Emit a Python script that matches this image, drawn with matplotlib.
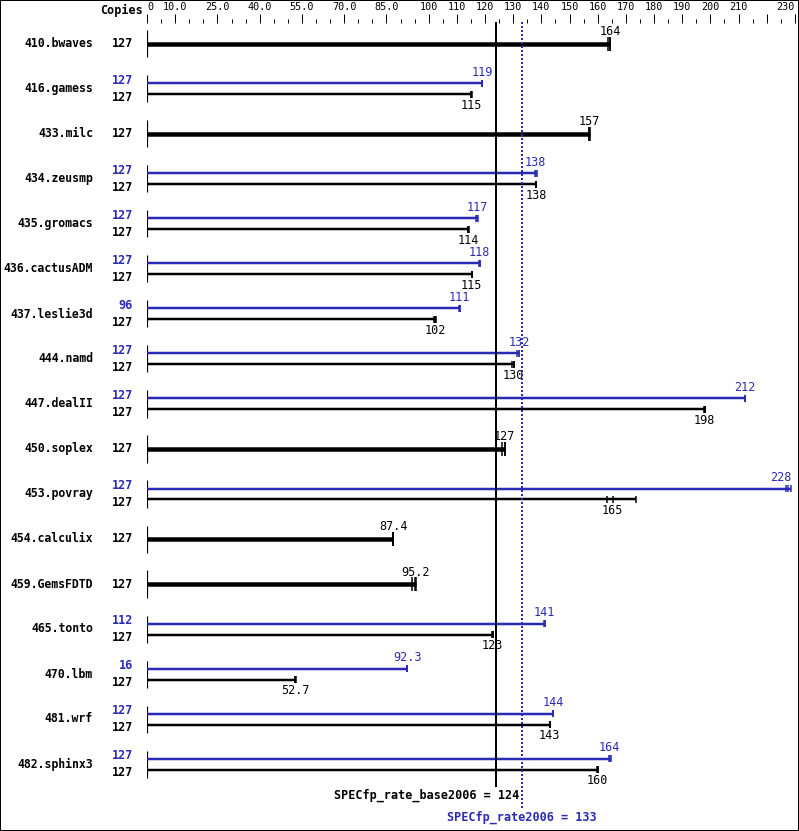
import matplotlib
matplotlib.use("Agg")
import matplotlib.pyplot as plt
from matplotlib.patches import Rectangle
from matplotlib.transforms import blended_transform_factory

BENCHMARKS = [
    "410.bwaves", "416.gamess", "433.milc", "434.zeusmp", "435.gromacs",
    "436.cactusADM", "437.leslie3d", "444.namd", "447.dealII", "450.soplex",
    "453.povray", "454.calculix", "459.GemsFDTD", "465.tonto", "470.lbm",
    "481.wrf", "482.sphinx3",
]
BASE_COPIES = [127, 127, 127, 127, 127, 127, 127, 127, 127, 127, 127, 127, 127, 127, 127, 127, 127]
PEAK_COPIES = [None, 127, None, 127, 127, 127, 96, 127, 127, None, 127, None, None, 112, 16, 127, 127]

# three runs per benchmark, median is the reported ratio
BASE_RUNS = [
    [163.7, 164.4, 164.5],
    [115.0, 115.1, 115.2],
    [156.9, 157.0, 157.1],
    [138.0, 138.1, 138.2],
    [113.8, 114.1, 114.3],
    [115.2, 115.3, 115.4],
    [102.0, 102.3, 102.6],
    [129.4, 130.2, 130.3],
    [197.9, 198.0, 198.1],
    [126.1, 127.0, 127.1],
    [163.4, 165.3, 173.5],
    [87.3, 87.4, 87.5],
    [93.9, 95.2, 95.4],
    [122.6, 122.7, 122.8],
    [52.6, 52.7, 52.8],
    [142.9, 143.0, 143.1],
    [159.9, 160.0, 160.1],
]
PEAK_RUNS = [
    None,
    [118.9, 119.0, 119.1],
    None,
    [137.7, 138.0, 138.3],
    [116.8, 117.1, 117.4],
    [118.0, 118.1, 118.2],
    [110.9, 111.0, 111.1],
    [131.4, 132.0, 132.2],
    [212.2, 212.3, 212.4],
    None,
    [226.8, 227.7, 228.7],
    None,
    None,
    [141.1, 141.2, 141.3],
    [92.2, 92.3, 92.4],
    [144.1, 144.2, 144.3],
    [164.1, 164.3, 164.6],
]
BASE_SCORE = 124
PEAK_SCORE = 133

SCALE_TICKS = [0, 10, 25, 40, 55, 70, 85, 100, 110, 120, 130, 140, 150, 160,
               170, 180, 190, 200, 210, 220, 230]
SCALE_LABELS = ["0", "10.0", "25.0", "40.0", "55.0", "70.0", "85.0", "100", "110",
                "120", "130", "140", "150", "160", "170", "180", "190", "200",
                "210", "", "230"]
SCALE_MINOR = [5, 15, 20, 30, 35, 45, 50, 60, 65, 75, 80, 90, 95, 105, 115, 125,
               135, 145, 155, 165, 175, 185, 195, 205, 215, 225]

BLUE = "#2a2ab4"
MONO = "DejaVu Sans Mono"
PX = 0.72  # points per pixel at 100 dpi

W, H = 799, 831
X0, X1 = 147, 794.9
TOP = 23
ROW0, ROW_H = 44, 45


def row_y(px):
    return (px - ROW0) / ROW_H


fig = plt.figure(figsize=(W / 100, H / 100), dpi=100)
ax = fig.add_axes([X0 / W, 0, (X1 - X0) / W, (H - TOP) / H])
ax.set_xlim(0, 230)
ax.set_ylim(row_y(H), row_y(TOP))
for s in ax.spines.values():
    s.set_visible(False)
ax.xaxis.tick_top()
ax.set_xticks(SCALE_TICKS)
ax.set_xticklabels(SCALE_LABELS)
ax.set_xticks(SCALE_MINOR, minor=True)
ax.tick_params(axis="x", which="major", length=9 * PX, width=PX, pad=2 * PX,
               labelsize=7.3, labelfontfamily=MONO, direction="out")
ax.tick_params(axis="x", which="minor", length=4 * PX, width=PX, direction="out")
ax.set_yticks([])
tick_labels = ax.get_xticklabels()
tick_labels[0].set_horizontalalignment("left")
tick_labels[-1].set_horizontalalignment("right")

name_tr = blended_transform_factory(fig.transFigure, ax.transData)
OFF = 5.5 / ROW_H

for i, name in enumerate(BENCHMARKS):
    two = PEAK_RUNS[i] is not None
    ax.vlines(0, i - 13.5 / ROW_H, i + 13.5 / ROW_H, color="black", lw=1.2 * PX)
    ax.text(93 / W, i, name, transform=name_tr, ha="right", va="center",
            family=MONO, fontsize=8.3, fontweight="bold")
    if two:
        bars = [(i - OFF, PEAK_RUNS[i], BLUE, 11, PEAK_COPIES[i], -3),
                (i + OFF, BASE_RUNS[i], "black", -11, BASE_COPIES[i], 3)]
        lw, th = 2.5 * PX, 3.5 / ROW_H
    else:
        bars = [(i, BASE_RUNS[i], "black", 12, BASE_COPIES[i], 0)]
        lw, th = 4.5 * PX, 7 / ROW_H
    for y, runs, color, lab_off, copies, c_off in bars:
        ax.hlines(y, 0, max(runs), color=color, lw=lw)
        ax.vlines(runs, y - th, y + th, color=color, lw=1.5 * PX)
        med = sorted(runs)[1]
        if med > 225:
            xy, ha = (max(runs), y), "right"
        else:
            xy, ha = (med, y), "center"
        ax.annotate(f"{med:.3g}", xy, xytext=(0, lab_off * PX), textcoords="offset points",
                    ha=ha, va="center", family=MONO, fontsize=8.5, color=color)
        ax.text(133 / W, y + c_off / ROW_H, str(copies), transform=name_tr,
                ha="right", va="center", family=MONO, fontsize=8.5,
                fontweight="bold", color=color)

ax.vlines(BASE_SCORE, row_y(22), row_y(787), color="black", lw=2 * PX,
          zorder=3, clip_on=False)
ax.vlines(PEAK_SCORE, row_y(22), row_y(808), color=BLUE, lw=2 * PX,
          linestyles=(0, (1, 1)), zorder=3, clip_on=False)
ax.annotate(f"SPECfp_rate_base2006 = {BASE_SCORE}", (BASE_SCORE, row_y(795)),
            xytext=(23 * PX, 0), textcoords="offset points", ha="right", va="center",
            family=MONO, fontsize=8.5, fontweight="bold", color="black")
ax.annotate(f"SPECfp_rate2006 = {PEAK_SCORE}", (PEAK_SCORE, row_y(817)),
            ha="center", va="center", family=MONO, fontsize=8.5,
            fontweight="bold", color=BLUE)

fig.text(143 / W, 1 - 10 / H, "Copies", ha="right", va="center",
         family=MONO, fontsize=8.5, fontweight="bold")
fig.add_artist(Rectangle((0, 0), 1, 1, transform=fig.transFigure, fill=False,
                         ec="black", lw=2 * PX))

fig.savefig("out.png", dpi=100)
